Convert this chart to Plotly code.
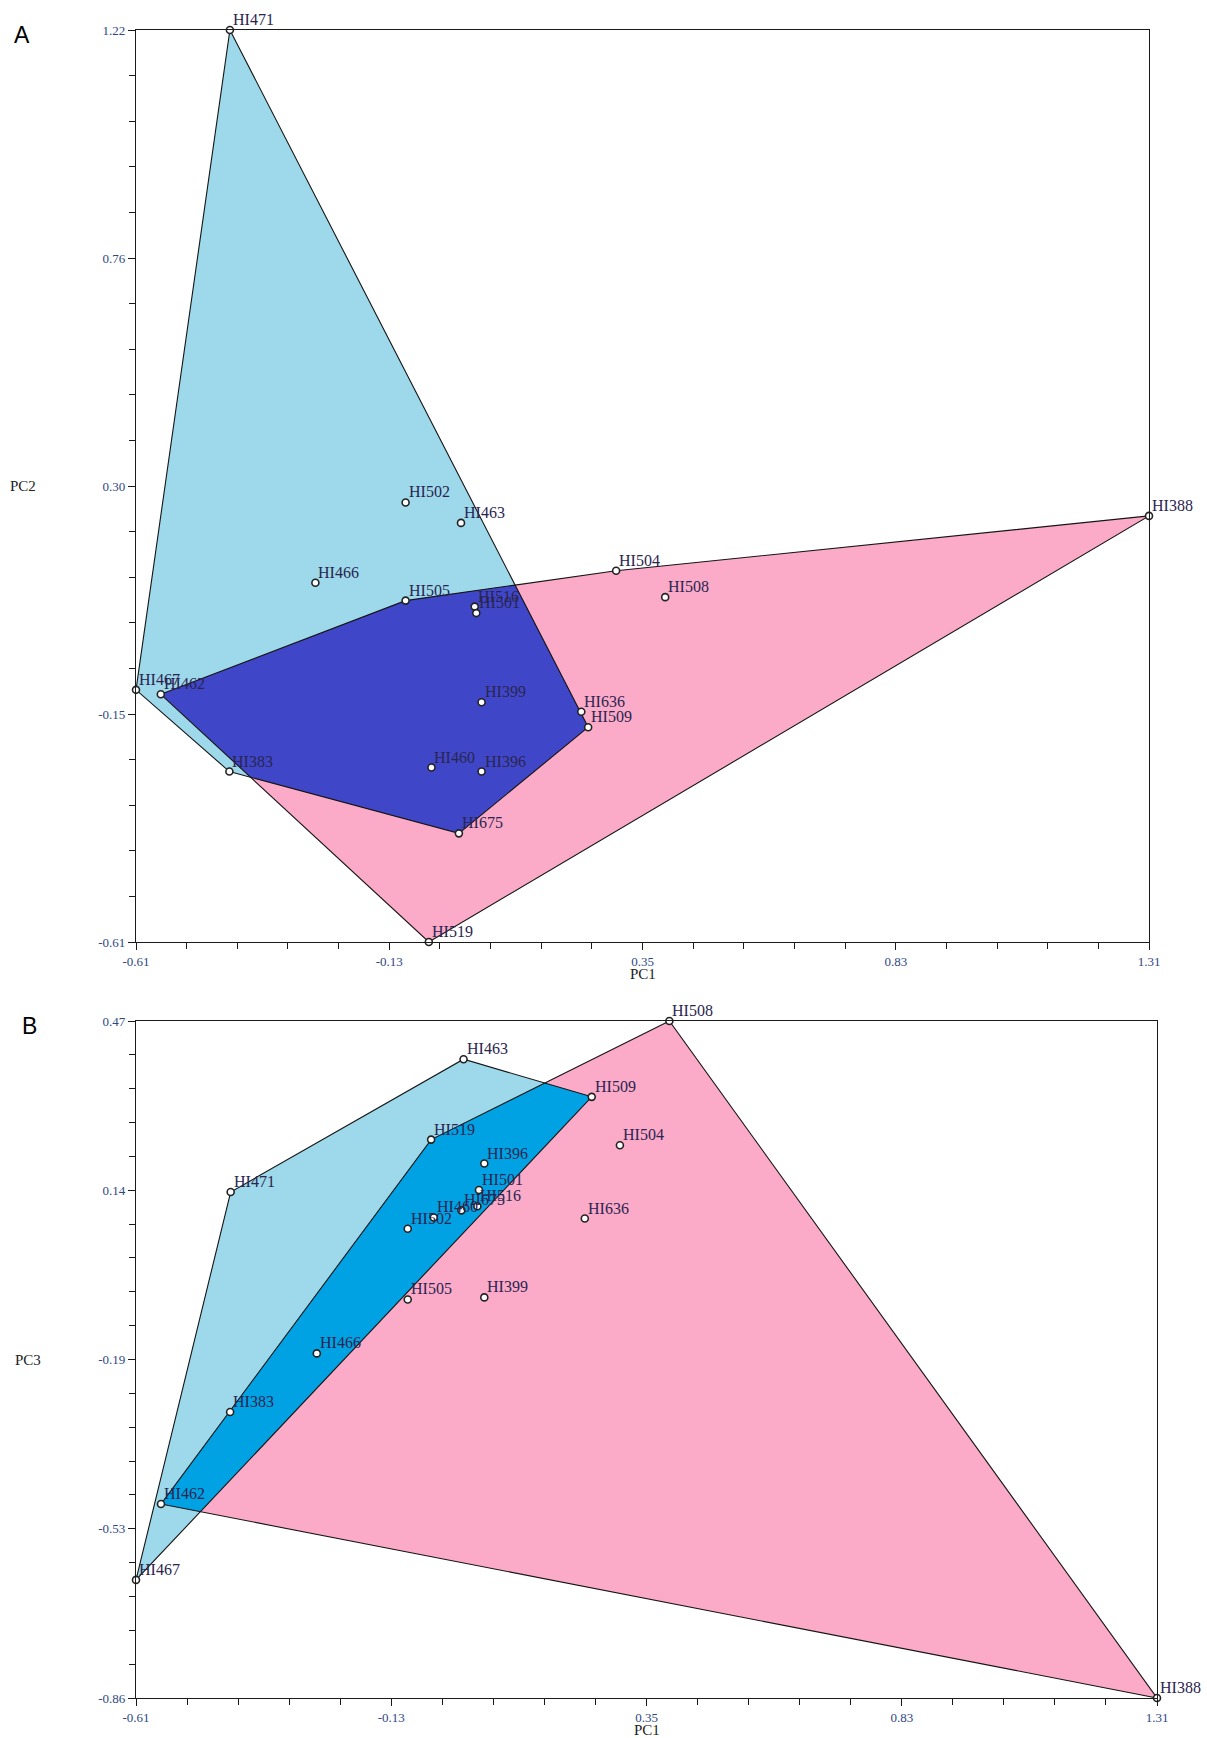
import plotly.graph_objects as go

# Sample scores on the first three principal components
samples = ["HI471", "HI502", "HI463", "HI388", "HI504", "HI508", "HI466", "HI505",
           "HI516", "HI501", "HI467", "HI462", "HI399", "HI636", "HI509", "HI383",
           "HI460", "HI396", "HI675", "HI519"]
pc1 = [-0.432, -0.099, 0.006, 1.310, 0.300, 0.393, -0.270, -0.099,
       0.032, 0.035, -0.610, -0.563, 0.045, 0.234, 0.247, -0.433,
       -0.050, 0.045, 0.002, -0.055]
pc2 = [1.220, 0.272, 0.231, 0.245, 0.135, 0.082, 0.111, 0.075,
       0.063, 0.050, -0.104, -0.113, -0.129, -0.148, -0.179, -0.268,
       -0.260, -0.268, -0.392, -0.610]
pc3 = [0.134, 0.062, 0.395, -0.860, 0.226, 0.470, -0.183, -0.077,
       0.106, 0.138, -0.628, -0.479, -0.073, 0.082, 0.321, -0.298,
       0.084, 0.190, 0.098, 0.237]
groups = ["I", "I", "I", "II", "II", "II", "I", "II",
          "I", "I", "I", "II", "II", "II", "I", "I",
          "I", "I", "I", "II"]

pc1_ticks = ["-0.61", "-0.13", "0.35", "0.83", "1.31"]
pc2_ticks = ["-0.61", "-0.15", "0.30", "0.76", "1.22"]
pc3_ticks = ["-0.86", "-0.53", "-0.19", "0.14", "0.47"]

GROUP_FILL = {"I": "#9dd9ea", "II": "#fbaac8"}
OVERLAP_FILL = {"A": "#3f47c8", "B": "#00a2e3"}
EDGE = "#151515"
SERIF = "Liberation Serif, Times New Roman, serif"
TICK_COLOR = "#2e4785"
LABEL_COLOR = "#2a2550"

W, H = 1207, 1738


def convex_hull(points):
    pts = sorted(set(points))
    if len(pts) < 3:
        return pts

    def cross(o, a, b):
        return (a[0] - o[0]) * (b[1] - o[1]) - (a[1] - o[1]) * (b[0] - o[0])

    lower, upper = [], []
    for p in pts:
        while len(lower) >= 2 and cross(lower[-2], lower[-1], p) <= 0:
            lower.pop()
        lower.append(p)
    for p in reversed(pts):
        while len(upper) >= 2 and cross(upper[-2], upper[-1], p) <= 0:
            upper.pop()
        upper.append(p)
    return lower[:-1] + upper[:-1]  # counter-clockwise


def clip_polygon(subject, clipper):
    """Sutherland-Hodgman: part of `subject` inside the convex CCW `clipper`."""
    def inside(p, a, b):
        return (b[0] - a[0]) * (p[1] - a[1]) - (b[1] - a[1]) * (p[0] - a[0]) >= 0

    def intersect(p, q, a, b):
        x1, y1 = p; x2, y2 = q; x3, y3 = a; x4, y4 = b
        den = (x1 - x2) * (y3 - y4) - (y1 - y2) * (x3 - x4)
        t = ((x1 - x3) * (y3 - y4) - (y1 - y3) * (x3 - x4)) / den
        return (x1 + t * (x2 - x1), y1 + t * (y2 - y1))

    out = list(subject)
    for i in range(len(clipper)):
        a, b = clipper[i], clipper[(i + 1) % len(clipper)]
        inp, out = out, []
        if not inp:
            break
        prev = inp[-1]
        for cur in inp:
            if inside(cur, a, b):
                if not inside(prev, a, b):
                    out.append(intersect(prev, cur, a, b))
                out.append(cur)
            elif inside(prev, a, b):
                out.append(intersect(prev, cur, a, b))
            prev = cur
    return out


def closed(poly):
    xs = [p[0] for p in poly] + [poly[0][0]]
    ys = [p[1] for p in poly] + [poly[0][1]]
    return xs, ys


def tick_positions(labels, n_minor=4):
    lo, hi = float(labels[0]), float(labels[-1])
    step = (hi - lo) / (len(labels) - 1)
    major = [lo + i * step for i in range(len(labels))]
    minor = [lo + i * step + j * step / (n_minor + 1)
             for i in range(len(labels) - 1) for j in range(1, n_minor + 1)]
    return major, minor, [lo, hi]


fig = go.Figure()

panels = [
    # name, y values, y tick labels, x axis id, y axis id,
    # plot box in pixels (left, top, right, bottom), y title, title x, letter x
    ("A", pc2, pc2_ticks, "x", "y", (136, 30, 1149, 942), "PC2", 23, 22),
    ("B", pc3, pc3_ticks, "x2", "y2", (136, 1021, 1157, 1698), "PC3", 28, 29),
]

annotations = []
layout_axes = {}

for name, yvals, yticks, xa, ya, box, ytitle, title_x, letter_x in panels:
    pts = {g: [(pc1[i], yvals[i]) for i in range(len(samples)) if groups[i] == g]
           for g in GROUP_FILL}
    hulls = {g: convex_hull(p) for g, p in pts.items()}
    overlap = clip_polygon(hulls["I"], hulls["II"])

    for g in ["I", "II"]:
        hx, hy = closed(hulls[g])
        fig.add_trace(go.Scatter(x=hx, y=hy, xaxis=xa, yaxis=ya, mode="lines",
                                 fill="toself", fillcolor=GROUP_FILL[g],
                                 line=dict(width=0), hoverinfo="skip",
                                 showlegend=False, cliponaxis=False))
    if overlap:
        ox, oy = closed(overlap)
        fig.add_trace(go.Scatter(x=ox, y=oy, xaxis=xa, yaxis=ya, mode="lines",
                                 fill="toself", fillcolor=OVERLAP_FILL[name],
                                 line=dict(width=0), hoverinfo="skip",
                                 showlegend=False, cliponaxis=False))
    for g in ["I", "II"]:
        hx, hy = closed(hulls[g])
        fig.add_trace(go.Scatter(x=hx, y=hy, xaxis=xa, yaxis=ya, mode="lines",
                                 line=dict(color=EDGE, width=1.1),
                                 hoverinfo="skip", showlegend=False, cliponaxis=False))

    fig.add_trace(go.Scatter(x=pc1, y=yvals, xaxis=xa, yaxis=ya, mode="markers",
                             marker=dict(symbol="circle", size=7, color="white",
                                         line=dict(color="#222222", width=1.6)),
                             text=samples, hoverinfo="text",
                             showlegend=False, cliponaxis=False))

    for s, xv, yv in zip(samples, pc1, yvals):
        annotations.append(dict(x=xv, y=yv, xref=xa, yref=ya, text=s,
                                showarrow=False, xanchor="left", yanchor="bottom",
                                xshift=1, yshift=0,
                                font=dict(family=SERIF, size=16, color=LABEL_COLOR)))

    left, top, right, bottom = box
    xmaj, xmin, xr = tick_positions(pc1_ticks)
    ymaj, ymin, yr = tick_positions(yticks)
    axis_common = dict(showgrid=False, zeroline=False, showline=True, automargin=False,
                       linecolor="#1a1a1a", linewidth=1.3, mirror=True,
                       ticks="outside", ticklen=7, tickwidth=1.2, tickcolor="#1a1a1a",
                       tickfont=dict(family=SERIF, size=13, color=TICK_COLOR),
                       tickmode="array")
    xkey = "xaxis" if xa == "x" else "xaxis" + xa[1:]
    ykey = "yaxis" if ya == "y" else "yaxis" + ya[1:]
    layout_axes[xkey] = dict(axis_common, domain=[left / W, right / W], range=xr,
                             anchor=ya, tickvals=xmaj, ticktext=pc1_ticks,
                             minor=dict(tickvals=xmin, ticks="outside", ticklen=6,
                                        tickwidth=1.2, tickcolor="#1a1a1a"))
    layout_axes[ykey] = dict(axis_common, domain=[1 - bottom / H, 1 - top / H], range=yr,
                             anchor=xa, tickvals=ymaj, ticktext=yticks,
                             minor=dict(tickvals=ymin, ticks="outside", ticklen=6,
                                        tickwidth=1.2, tickcolor="#1a1a1a"))

    # axis titles
    annotations.append(dict(x=(left + right) / 2 / W, y=1 - (bottom + 32) / H,
                            xref="paper", yref="paper", text="PC1", showarrow=False,
                            xanchor="center", yanchor="middle",
                            font=dict(family=SERIF, size=15, color="#222222")))
    annotations.append(dict(x=title_x / W, y=1 - (top + bottom) / 2 / H,
                            xref="paper", yref="paper", text=ytitle, showarrow=False,
                            xanchor="center", yanchor="middle",
                            font=dict(family=SERIF, size=15, color="#222222")))
    # panel letter
    annotations.append(dict(x=letter_x / W, y=1 - (top + 5) / H,
                            xref="paper", yref="paper", text=name, showarrow=False,
                            xanchor="center", yanchor="middle",
                            font=dict(family="Liberation Sans, Arial, sans-serif",
                                      size=23, color="#000000")))

fig.update_layout(
    width=W, height=H,
    margin=dict(l=0, r=0, t=0, b=0, autoexpand=False),
    paper_bgcolor="white", plot_bgcolor="white",
    annotations=annotations,
    **layout_axes,
)

fig.write_html("out.html")
